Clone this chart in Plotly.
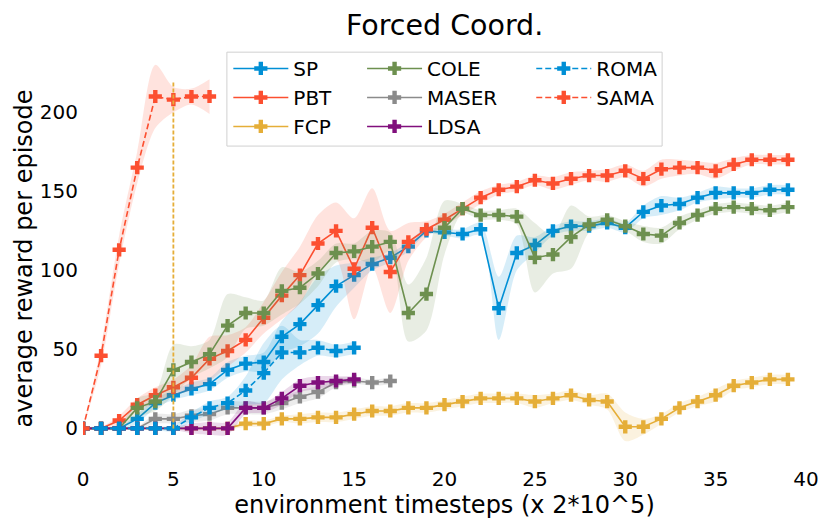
import plotly.graph_objects as go

# ---------------- data ----------------
X_FULL = list(range(40))

SP_MEAN = [0, 0, 0, 6, 16, 21, 25, 28, 37, 41, 42, 58, 66, 78, 90, 97, 104, 108, 115, 125,
           124, 123, 126, 76, 111, 116, 125, 128, 128, 130, 127, 137, 141, 142, 146, 149, 149, 149, 151, 151]
SP_STD = [1, 1, 1, 3, 3, 3, 4, 4, 5, 5, 6, 10, 14, 18, 13, 8, 4, 3, 3, 2,
          2, 3, 4, 20, 11, 5, 3, 3, 3, 3, 3, 4, 6, 4, 3, 4, 3, 3, 3, 3]

PBT_MEAN = [0, 0, 5, 15, 21, 26, 32, 44, 49, 56, 70, 84, 97, 117, 125, 101, 127, 99, 118, 126,
            132, 139, 146, 151, 153, 157, 155, 158, 160, 160, 163, 158, 164, 165, 165, 163, 167, 170, 170, 170]
PBT_STD = [0, 1, 3, 4, 5, 5, 8, 14, 10, 8, 10, 15, 18, 18, 18, 32, 25, 26, 12, 5,
           4, 4, 4, 3, 3, 3, 4, 4, 3, 4, 4, 5, 6, 5, 4, 5, 4, 3, 3, 3]

FCP_MEAN = [0, 0, 0, 0, 0, 0, 0, 0, 0, 3, 3, 6, 6, 7, 7, 9, 11, 11, 13, 13,
            15, 17, 19, 19, 19, 17, 19, 21, 18, 17, 1, 1, 6, 13, 17, 21, 27, 29, 31, 31]
FCP_STD = [0.5, 0.5, 0.5, 0.5, 0.5, 0.5, 0.5, 0.5, 1, 2, 2, 2, 3, 3, 3, 3, 3, 3, 3, 3,
           3, 3, 3, 3, 3, 4, 3, 3, 3, 5, 9, 5, 3, 3, 3, 4, 3, 3, 3, 3]

COLE_MEAN = [0, 0, 0, 13, 17, 37, 42, 47, 65, 73, 73, 87, 89, 98, 111, 112, 115, 118, 73, 85,
             127, 139, 135, 135, 134, 108, 110, 121, 129, 132, 128, 123, 122, 130, 135, 139, 140, 139, 138, 140]
COLE_STD = [0, 0, 1, 6, 6, 16, 10, 9, 20, 10, 8, 15, 10, 8, 6, 5, 10, 6, 18, 23,
            17, 3, 3, 3, 5, 22, 12, 20, 5, 3, 3, 5, 5, 4, 3, 3, 3, 3, 3, 3]

MASER_X = list(range(18))
MASER_MEAN = [0, 0, 0, 0, 6, 6, 8, 9, 13, 13, 13, 16, 20, 23, 29, 30, 29, 30]
MASER_STD = [0, 0, 0, 1, 3, 3, 4, 4, 4, 4, 4, 4, 4, 4, 3, 2, 2, 2]

LDSA_X = list(range(16))
LDSA_MEAN = [0, 0, 0, 0, 0, 0, 0, 0, 0, 13, 13, 19, 27, 29, 30, 31]
LDSA_STD = [0, 0, 0, 0, 0, 1, 3, 4, 4, 4, 3, 4, 4, 4, 3, 2]

ROMA_X = list(range(16))
ROMA_MEAN = [0, 0, 0, 0, 0, 0, 7, 13, 16, 24, 35, 48, 48, 51, 49, 51]
ROMA_STD = [0, 0, 0, 0, 1, 2, 3, 4, 4, 9, 19, 17, 8, 5, 4, 4]

SAMA_X = list(range(8))
SAMA_MEAN = [0, 46, 113, 165, 210, 208, 210, 210]
SAMA_STD = [0, 6, 9, 10, 20, 8, 5, 11]

VLINE_X = [5, 5]
VLINE_Y = [0, 220]

X_TICKS = [0, 5, 10, 15, 20, 25, 30, 35, 40]
Y_TICKS = [0, 50, 100, 150, 200]

# ---------------- style ----------------
BLUE = "#008fd5"
RED = "#fc4f30"
GOLD = "#e5ae38"
GREEN = "#6d904f"
GRAY = "#8b8b8b"
PURPLE = "#810f7c"
FONT = "DejaVu Sans"


def rgba(hex_color, a):
    h = hex_color.lstrip("#")
    r, g, b = int(h[0:2], 16), int(h[2:4], 16), int(h[4:6], 16)
    return f"rgba({r},{g},{b},{a})"


series = [
    ("SP", X_FULL, SP_MEAN, SP_STD, BLUE, "solid", "legend"),
    ("PBT", X_FULL, PBT_MEAN, PBT_STD, RED, "solid", "legend"),
    ("FCP", X_FULL, FCP_MEAN, FCP_STD, GOLD, "solid", "legend"),
    ("COLE", X_FULL, COLE_MEAN, COLE_STD, GREEN, "solid", "legend2"),
    ("MASER", MASER_X, MASER_MEAN, MASER_STD, GRAY, "solid", "legend2"),
    ("LDSA", LDSA_X, LDSA_MEAN, LDSA_STD, PURPLE, "solid", "legend2"),
    ("ROMA", ROMA_X, ROMA_MEAN, ROMA_STD, BLUE, "6px,3px", "legend3"),
    ("SAMA", SAMA_X, SAMA_MEAN, SAMA_STD, RED, "6px,3px", "legend3"),
]

fig = go.Figure()

for name, xs, mean, std, color, dash, leg in series:
    lower = [m - s for m, s in zip(mean, std)]
    upper = [m + s for m, s in zip(mean, std)]
    fig.add_trace(go.Scatter(
        x=xs, y=lower, mode="lines", line=dict(width=0, color=color, shape="spline", smoothing=0.8),
        showlegend=False, hoverinfo="skip", legend=leg))
    fig.add_trace(go.Scatter(
        x=xs, y=upper, mode="lines", line=dict(width=0, color=color, shape="spline", smoothing=0.8),
        fill="tonexty", fillcolor=rgba(color, 0.16), showlegend=False, hoverinfo="skip", legend=leg))
    fig.add_trace(go.Scatter(
        x=xs, y=mean, mode="lines+markers", name=name, legend=leg,
        line=dict(color=color, width=1.6, dash=dash),
        marker=dict(symbol="cross", size=11, color=color, line=dict(width=0))))

fig.add_trace(go.Scatter(
    x=VLINE_X, y=VLINE_Y, mode="lines", showlegend=False, hoverinfo="skip",
    line=dict(color=GOLD, width=1.8, dash="4px,2px")))

legend_common = dict(
    font=dict(family=FONT, size=20, color="black"),
    bgcolor="rgba(0,0,0,0)", borderwidth=0,
    xanchor="left", yanchor="top", orientation="v",
    itemwidth=55, tracegroupgap=0, traceorder="normal",
)

fig.update_layout(
    width=830, height=527,
    margin=dict(l=75, r=32, t=49, b=75, autoexpand=False),
    paper_bgcolor="white", plot_bgcolor="white",
    font=dict(family=FONT, size=20, color="black"),
    title=dict(text="Forced Coord.", x=0.526, xanchor="center", y=0.9677, yanchor="middle",
               font=dict(family=FONT, size=28.5, color="black"), automargin=False),
    xaxis=dict(range=[0, 40], tickvals=X_TICKS, showgrid=False, zeroline=False, showline=False,
               ticks="", tickfont=dict(size=20), automargin=False, ticklabelstandoff=5,
               title=dict(text="environment timesteps (x 2*10^5)", font=dict(size=24), standoff=0)),
    yaxis=dict(range=[-20, 235], tickvals=Y_TICKS, showgrid=False, zeroline=False, showline=False,
               ticks="", tickfont=dict(size=20), automargin=False, ticklabelstandoff=4,
               title=dict(text="average reward per episode", font=dict(size=24), standoff=0)),
    legend=dict(x=0.201, y=1.02, **legend_common),
    legend2=dict(x=0.386, y=1.02, **legend_common),
    legend3=dict(x=0.62, y=1.02, **legend_common),
    shapes=[dict(type="rect", xref="paper", yref="paper", x0=0.199, x1=0.801, y0=0.779, y1=1.012,
                 line=dict(color="#d0d0d0", width=1), fillcolor="rgba(255,255,255,0.8)", layer="above")],
    showlegend=True,
)

fig.write_html("out.html")
